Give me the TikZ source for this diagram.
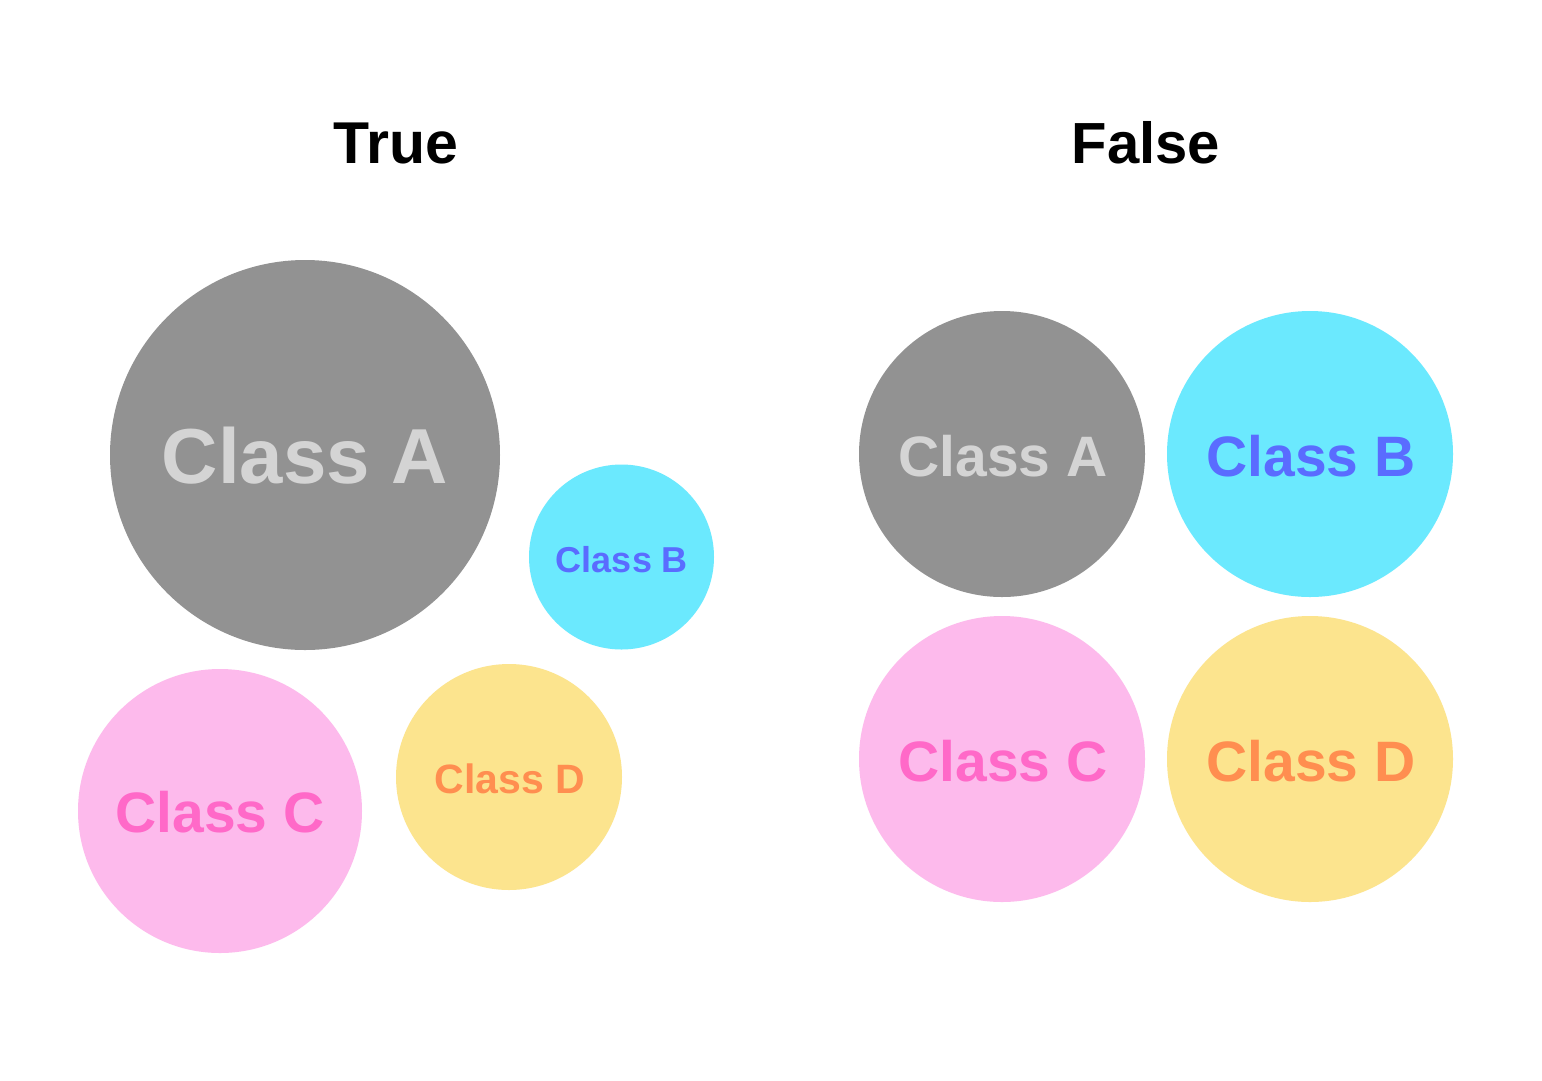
\documentclass[tikz,border=0pt]{standalone}
\usepackage{fontspec}
\setmainfont{Liberation Sans}
\definecolor{cgrey}{HTML}{929292}
\definecolor{tgrey}{HTML}{D4D4D4}
\definecolor{ccyan}{HTML}{6BE9FE}
\definecolor{tblue}{HTML}{5A6CFF}
\definecolor{cpink}{HTML}{FDBAEC}
\definecolor{tpink}{HTML}{FF69C8}
\definecolor{cyellow}{HTML}{FCE48E}
\definecolor{torange}{HTML}{FF8E50}
\tikzset{
  bubble/.style={circle, inner sep=0pt, draw=none},
  lbl/.style={anchor=base, inner sep=0pt, font=\bfseries},
}
\newcommand{\fs}[1]{\fontsize{#1}{#1}\selectfont}
\begin{document}
\begin{tikzpicture}[x=1pt,y=-1pt]
\useasboundingbox[fill=white] (0,0) rectangle (1542,1080);
% titles
\node[lbl] (ttrue) at (396,163) {\fs{59}True};
\node[lbl] (tfalse) at (1146,163) {\fs{58}False};
% left group
\fill[cgrey] (305,455) circle (195);
\fill[ccyan] (621.5,557) circle (92.5);
\fill[cpink] (220,811) circle (142);
\fill[cyellow] (509,777) circle (113);
\node[lbl, text=tgrey] (la) at (305,483) {\fs{78}Class A};
\node[lbl, text=tblue] (lb) at (622,572) {\fs{36}Class B};
\node[lbl, text=tpink] (lc) at (220,832) {\fs{57}Class C};
\node[lbl, text=torange] (ld) at (510,793) {\fs{41}Class D};
% right group
\fill[cgrey] (1002,454) circle (143);
\fill[ccyan] (1310,454) circle (143);
\fill[cpink] (1002,759) circle (143);
\fill[cyellow] (1310,759) circle (143);
\node[lbl, text=tgrey] (ra) at (1003,476) {\fs{57}Class A};
\node[lbl, text=tblue] (rb) at (1311,476) {\fs{57}Class B};
\node[lbl, text=tpink] (rc) at (1003,781) {\fs{57}Class C};
\node[lbl, text=torange] (rd) at (1311,781) {\fs{57}Class D};
\end{tikzpicture}
\end{document}
